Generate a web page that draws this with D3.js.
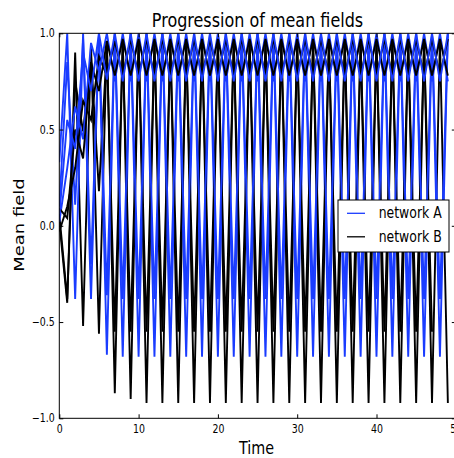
<!DOCTYPE html>
<html>
<head>
<meta charset="utf-8">
<script src="https://cdn.jsdelivr.net/npm/d3@7"></script>
<style>
  html, body { margin: 0; padding: 0; background: #ffffff; }
  svg { display: block; font-family: "DejaVu Sans", sans-serif; }
</style>
</head>
<body>
<div id="chart"></div>
<script>
// ---------- data ----------
const time = [0,1,2,3,4,5,6,7,8,9,10,11,12,13,14,15,16,17,18,19,20,21,22,23,24,25,26,27,28,29,30,31,32,33,34,35,36,37,38,39,40,41,42,43,44,45,46,47,48,49];

// network A (blue) runs
const netA1 = [0.33,1.00,-0.38,1.00,-0.38,1.00,-0.67,1.00,-0.68,1.00,-0.68,1.00,-0.68,1.00,-0.68,1.00,-0.68,1.00,-0.68,1.00,-0.68,1.00,-0.68,1.00,-0.68,1.00,-0.68,1.00,-0.68,1.00,-0.68,1.00,-0.68,1.00,-0.68,1.00,-0.68,1.00,-0.68,1.00,-0.68,1.00,-0.68,1.00,-0.68,1.00,-0.68,1.00,-0.68,1.00];
const netA2 = [0.10,0.85,0.11,0.97,-0.20,0.99,-0.36,1.00,-0.38,1.00,-0.38,1.00,-0.38,1.00,-0.38,1.00,-0.38,1.00,-0.38,1.00,-0.38,1.00,-0.38,1.00,-0.38,1.00,-0.38,1.00,-0.38,1.00,-0.38,1.00,-0.38,1.00,-0.38,1.00,-0.38,1.00,-0.38,1.00,-0.38,1.00,-0.38,1.00,-0.38,1.00,-0.38,1.00,-0.38,1.00];
const netA3 = [0.02,0.30,0.62,0.45,0.95,0.80,1.00,0.75,1.00,0.75,1.00,0.75,1.00,0.75,1.00,0.75,1.00,0.75,1.00,0.75,1.00,0.75,1.00,0.75,1.00,0.75,1.00,0.75,1.00,0.75,1.00,0.75,1.00,0.75,1.00,0.75,1.00,0.75,1.00,0.75,1.00,0.75,1.00,0.75,1.00,0.75,1.00,0.75,1.00,0.75];
const netA4 = [0.05,0.55,0.40,0.90,0.70,1.00,0.76,1.00,0.75,1.00,0.75,1.00,0.75,1.00,0.75,1.00,0.75,1.00,0.75,1.00,0.75,1.00,0.75,1.00,0.75,1.00,0.75,1.00,0.75,1.00,0.75,1.00,0.75,1.00,0.75,1.00,0.75,1.00,0.75,1.00,0.75,1.00,0.75,1.00,0.75,1.00,0.75,1.00,0.75,1.00];

// network B (black) runs
const netB1 = [0.02,-0.40,0.90,-0.52,0.94,-0.56,0.96,-0.87,0.97,-0.90,0.97,-0.92,0.97,-0.92,0.97,-0.92,0.97,-0.92,0.97,-0.92,0.97,-0.92,0.97,-0.92,0.97,-0.92,0.97,-0.92,0.97,-0.92,0.97,-0.92,0.97,-0.92,0.97,-0.92,0.97,-0.92,0.97,-0.92,0.97,-0.92,0.97,-0.92,0.97,-0.92,0.97,-0.92,0.97,-0.92];
const netB2 = [0.06,-0.38,0.75,0.49,0.88,0.18,0.93,-0.55,0.95,-0.55,0.95,-0.55,0.95,-0.55,0.95,-0.55,0.95,-0.55,0.95,-0.55,0.95,-0.55,0.95,-0.55,0.95,-0.55,0.95,-0.55,0.95,-0.55,0.95,-0.55,0.95,-0.55,0.95,-0.55,0.95,-0.55,0.95,-0.55,0.95,-0.55,0.95,-0.55,0.95,-0.55,0.95,-0.55];
const netB3 = [-0.03,0.10,0.30,0.65,0.55,0.88,0.78,0.96,0.78,0.97,0.78,0.97,0.78,0.97,0.78,0.97,0.78,0.97,0.78,0.97,0.78,0.97,0.78,0.97,0.78,0.97,0.78,0.97,0.78,0.97,0.78,0.97,0.78,0.97,0.78,0.97,0.78,0.97,0.78,0.97,0.78,0.97,0.78,0.97,0.78,0.97,0.78,0.97,0.78,0.97];
const netB4 = [0.09,0.04,0.50,0.35,0.85,0.70,0.96,0.78,0.97,0.78,0.97,0.78,0.97,0.78,0.97,0.78,0.97,0.78,0.97,0.78,0.97,0.78,0.97,0.78,0.97,0.78,0.97,0.78,0.97,0.78,0.97,0.78,0.97,0.78,0.97,0.78,0.97,0.78,0.97,0.78,0.97,0.78,0.97,0.78,0.97,0.78,0.97,0.78,0.97,0.78];

const xTicks = [0,10,20,30,40,50];
const yTicks = [-1.0,-0.5,0.0,0.5,1.0];
const legendLabels = ["network A","network B"];
const seriesColors = ["#1a3cff","#000000"];

// ---------- layout ----------
const W = 454, H = 458;
const SX = 0.82;               // horizontal squeeze of the text glyphs
const margin = {left: 59.3, top: 33.3};
const plotW = 396.5, plotH = 385;

const svg = d3.select("#chart").append("svg").attr("width", W).attr("height", H);

const x = d3.scaleLinear().domain([0, 50]).range([margin.left, margin.left + plotW]);
const y = d3.scaleLinear().domain([-1, 1]).range([margin.top + plotH, margin.top]);

svg.append("defs").append("clipPath").attr("id","clip")
  .append("rect").attr("x", x(0)).attr("y", y(1)).attr("width", plotW).attr("height", plotH);

const line = d3.line().x((d,i) => x(time[i])).y(d => y(d));

const g = svg.append("g").attr("clip-path","url(#clip)");
const runs = [
  [netB1, 1],[netA1, 0],[netB2, 1],[netA2, 0],[netB3, 1],[netA3, 0],[netB4, 1],[netA4, 0]
];
runs.forEach(([vals, c]) => {
  g.append("path").datum(vals)
    .attr("d", line)
    .attr("fill","none")
    .attr("stroke", seriesColors[c])
    .attr("stroke-width", 1.9)
    .attr("stroke-linejoin","miter");
});

// ---------- axes ----------
const fmtY = d => d3.format(".1f")(d).replace("-", "\u2212");
const axB = d3.axisBottom(x).tickValues(xTicks).tickSizeInner(-4).tickSizeOuter(0).tickPadding(6.5).tickFormat(d3.format("d"));
const axT = d3.axisTop(x).tickValues(xTicks).tickSizeInner(-4).tickSizeOuter(0).tickFormat("");
const axL = d3.axisLeft(y).tickValues(yTicks).tickSizeInner(-4).tickSizeOuter(0).tickPadding(4.5).tickFormat(fmtY);
const axR = d3.axisRight(y).tickValues(yTicks).tickSizeInner(-4).tickSizeOuter(0).tickFormat("");

function styleAxis(sel) {
  sel.select(".domain").remove();
  sel.selectAll(".tick line").attr("stroke","#000").attr("stroke-width",1);
  sel.selectAll(".tick text").attr("fill","#000").style("font-size","11.5px").style("font-family","DejaVu Sans");
}
const gB = svg.append("g").attr("transform",`translate(0,${y(-1)})`).call(axB).call(styleAxis);
svg.append("g").attr("transform",`translate(0,${y(1)})`).call(axT).call(styleAxis);
const gL = svg.append("g").attr("transform",`translate(${x(0)},0)`).call(axL).call(styleAxis);
svg.append("g").attr("transform",`translate(${x(50)},0)`).call(axR).call(styleAxis);
// squeeze tick label glyphs horizontally, keeping their anchor positions
gB.selectAll(".tick text").attr("transform", `scale(${SX},1)`);
gL.selectAll(".tick text").each(function() {
  const t = d3.select(this);
  t.attr("x", (+t.attr("x")) / SX).attr("transform", `scale(${SX},1)`);
});

// frame
svg.append("rect").attr("x", x(0)).attr("y", y(1)).attr("width", plotW).attr("height", plotH)
  .attr("fill","none").attr("stroke","#000").attr("stroke-width",1);

// ---------- titles ----------
svg.append("text").attr("transform", `translate(257.5,27.3) scale(${SX},1)`).attr("text-anchor","middle")
  .style("font-size","19.5px").text("Progression of mean fields");
svg.append("text").attr("transform", `translate(256.5,454) scale(${SX},1)`).attr("text-anchor","middle")
  .style("font-size","17.5px").text("Time");
svg.append("text").attr("transform", `translate(24,225) scale(${SX},1) rotate(-90)`).attr("text-anchor","middle")
  .style("font-size","18px").text("Mean field");

// ---------- legend ----------
const lg = svg.append("g");
lg.append("rect").attr("x", 338).attr("y", 200).attr("width", 111).attr("height", 52)
  .attr("fill","#fff").attr("stroke","#000").attr("stroke-width",1);
legendLabels.forEach((lab, i) => {
  const ly = 213.3 + i * 23.5;
  lg.append("line").attr("x1", 347).attr("x2", 365).attr("y1", ly).attr("y2", ly)
    .attr("stroke", seriesColors[i]).attr("stroke-width", 1.3);
  lg.append("text").attr("transform", `translate(378.7,${ly + 5}) scale(${SX},1)`)
    .style("font-size","15.2px").text(lab);
});
</script>
</body>
</html>
